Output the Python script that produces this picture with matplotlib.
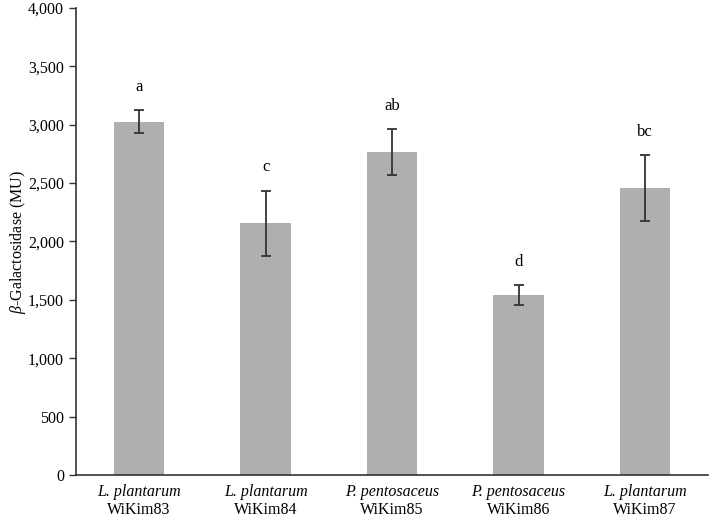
import matplotlib
matplotlib.use('Agg')
import matplotlib.pyplot as plt
import matplotlib.transforms as mtransforms
from matplotlib.ticker import FuncFormatter

plt.rcParams['font.family'] = ['Liberation Serif', 'DejaVu Serif']
plt.rcParams['mathtext.fontset'] = 'custom'
plt.rcParams['mathtext.rm'] = 'Liberation Serif'
plt.rcParams['mathtext.it'] = 'Liberation Serif:italic'

species = ['L. plantarum', 'L. plantarum', 'P. pentosaceus', 'P. pentosaceus', 'L. plantarum']
strains = ['WiKim83', 'WiKim84', 'WiKim85', 'WiKim86', 'WiKim87']
values = [3025, 2155, 2765, 1540, 2458]
errors = [100, 280, 195, 85, 283]
letters = ['a', 'c', 'ab', 'd', 'bc']

fig = plt.figure(figsize=(7.09, 5.17), dpi=100)
ax = fig.add_axes([0.107, 0.081, 0.892, 0.904])

x = range(len(values))
ax.bar(x, values, width=0.4, color='#afafaf', zorder=2)
ax.errorbar(x, values, yerr=errors, fmt='none', ecolor='#333333',
            elinewidth=1.3, capsize=3.5, capthick=1.3, zorder=3)

for i in x:
    ax.annotate(letters[i], (i, values[i] + errors[i]), xytext=(0, 11),
                textcoords='offset points', ha='center', va='bottom', fontsize=12)

ax.set_xlim(-0.5, 4.5)
ax.set_ylim(0, 4000)
ax.set_yticks(range(0, 4001, 500))
ax.yaxis.set_major_formatter(FuncFormatter(lambda v, p: '{:,.0f}'.format(v)))
ax.tick_params(axis='y', direction='out', length=5, width=1, colors='#333333',
               labelcolor='black', labelsize=11.5)
ax.set_xticks(list(x))
ax.set_xticklabels([''] * len(values))
ax.tick_params(axis='x', length=0)

for s in ['top', 'right']:
    ax.spines[s].set_visible(False)
for s in ['left', 'bottom']:
    ax.spines[s].set_color('#333333')
    ax.spines[s].set_linewidth(1.2)

trans = mtransforms.blended_transform_factory(ax.transData, ax.transAxes)
for i in x:
    ax.text(i, -0.02, species[i], transform=trans, ha='center', va='top',
            fontsize=11.5, style='italic')
    ax.text(i, -0.058, strains[i], transform=trans, ha='center', va='top',
            fontsize=11.5)

ax.set_ylabel(r'$\beta$-Galactosidase (MU)', fontsize=11.5)
ax.yaxis.set_label_coords(-0.075, 0.5)

fig.savefig('out.png', dpi=100)
